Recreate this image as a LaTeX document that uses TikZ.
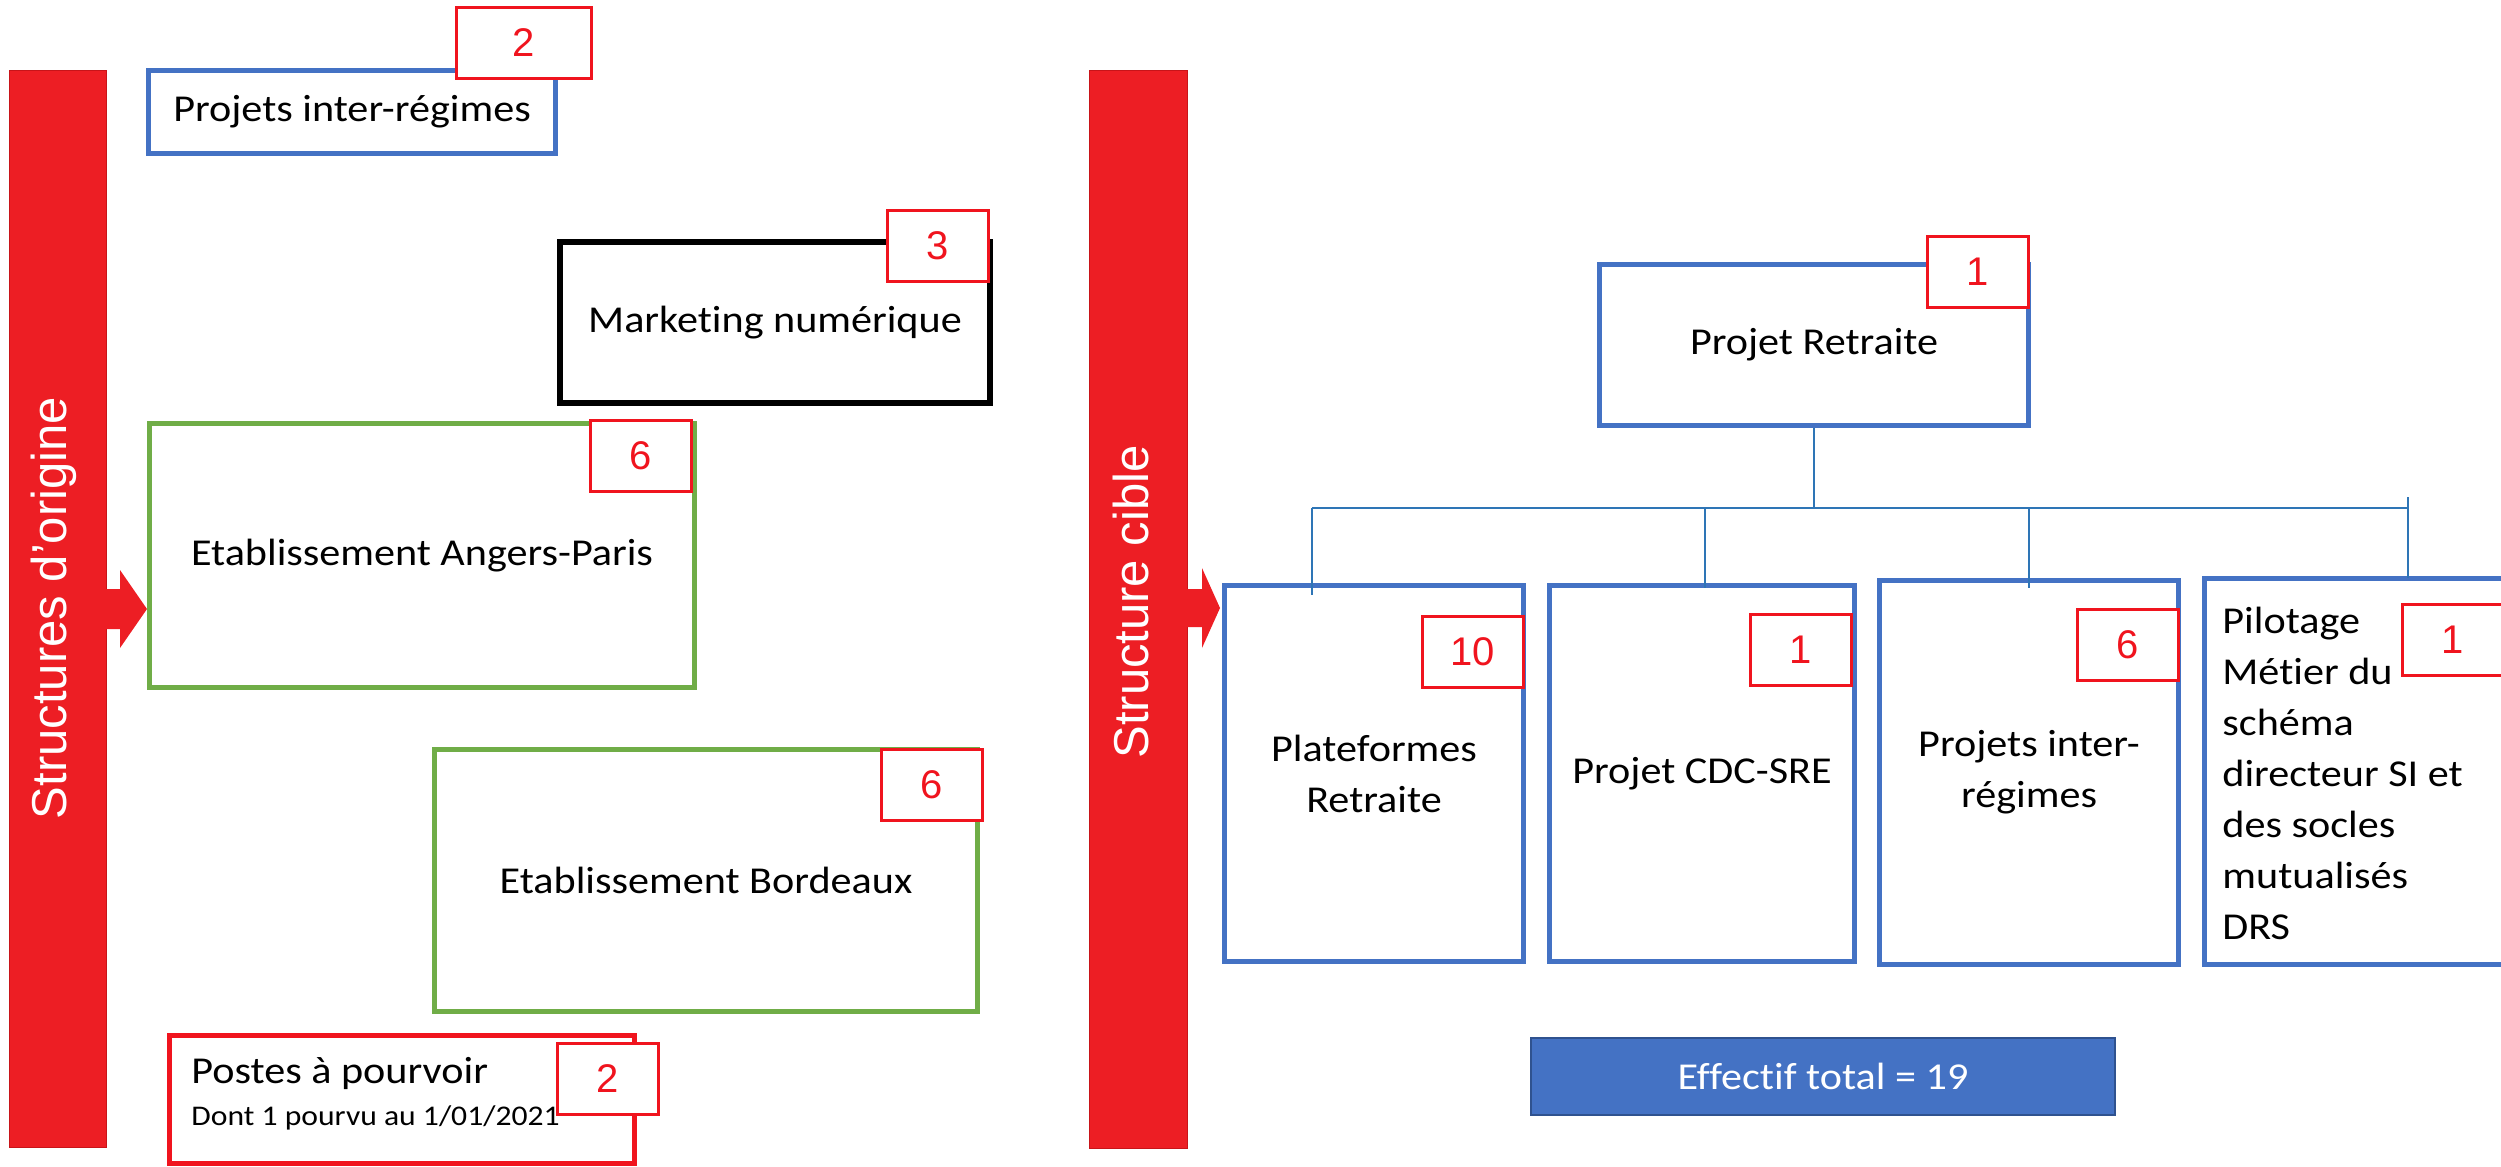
\documentclass[tikz,border=0pt]{standalone}
\usepackage{fontspec}
\setmainfont{Carlito}[FakeStretch=1.11,Ligatures=NoCommon]
\newfontfamily\arialf{Liberation Sans}
\definecolor{blueB}{RGB}{68,114,196}
\definecolor{blueD}{RGB}{47,82,143}
\definecolor{greenB}{RGB}{112,173,71}
\definecolor{barred}{RGB}{237,30,36}
\definecolor{bardark}{RGB}{200,20,25}
\definecolor{badgered}{RGB}{240,20,30}
\definecolor{conn}{RGB}{46,117,182}
\tikzset{
  txt/.style={font=\fontsize{19pt}{25.5pt}\selectfont},
  frame/.style={txt, fill=white, line width=2.5pt, inner sep=0pt, align=center},
  bluebox/.style={frame, draw=blueB},
  greenbox/.style={frame, draw=greenB},
  blackbox/.style={frame, draw=black, line width=3pt},
  redbox/.style={frame, draw=badgered},
  badge/.style={draw=badgered, fill=white, line width=1.5pt, inner sep=0pt,
    minimum width=50.5pt, minimum height=35.5pt, text=badgered,
    font=\arialf\fontsize{20pt}{24pt}\selectfont},
  bar/.style={fill=barred, draw=bardark, line width=0.5pt, inner sep=0pt},
  bartext/.style={rotate=90, text=white, inner sep=0pt,
    font=\arialf\fontsize{24.5pt}{29pt}\selectfont},
  hline/.style={draw=conn, line width=1.25pt},
  vline/.style={draw=conn, line width=0.75pt},
}
\begin{document}
\begin{tikzpicture}[x=0.5pt,y=-0.5pt]
\useasboundingbox (0,0) rectangle (2501,1167);

% ---- left bar
\node[bar, minimum width=48.5pt, minimum height=538.5pt] (barL) at (57.5,608.5) {};
\fill[barred] (106,589) -- (120,589) -- (120,570) -- (147,609) -- (120,648) -- (120,629) -- (106,629) -- cycle;
\node[bartext] (tL) at (54,608) {Structures d’origine};

% ---- right bar
\node[bar, minimum width=49pt, minimum height=539pt] (barR) at (1138,609) {};
\fill[barred] (1187,589) -- (1202,589) -- (1202,568) -- (1220,608) -- (1202,648) -- (1202,627) -- (1187,627) -- cycle;
\node[bartext] (tR) at (1131,602) {Structure cible};

% ---- left boxes
\node[bluebox, minimum width=203.5pt, minimum height=41.5pt] (pir) at (352,112) {Projets inter-régimes};
\node[blackbox, minimum width=215pt, minimum height=80.5pt] (mkt) at (775,322.5) {Marketing numérique};
\node[greenbox, minimum width=272.5pt, minimum height=132pt] (ang) at (422,555.5) {Etablissement Angers-Paris};
\node[greenbox, minimum width=271.5pt, minimum height=131pt] (bdx) at (706,880.5) {Etablissement Bordeaux};
\node[redbox, minimum width=232.5pt, minimum height=64pt] (pst) at (402,1099.5) {};
\node[txt, anchor=base west, inner sep=0pt] (pst1) at (191,1083) {Postes à pourvoir};
\node[anchor=base west, inner sep=0pt, font=\fontsize{14.25pt}{17pt}\selectfont] (pst2) at (191,1125) {Dont 1 pourvu au 1/01/2021};

% ---- right boxes
\node[bluebox, minimum width=214.5pt, minimum height=80.5pt] (pr) at (1814,345) {Projet Retraite};
\node[bluebox, minimum width=149.5pt, minimum height=188pt] (pf) at (1374,773.5) {Plateformes\\Retraite};
\node[bluebox, minimum width=152.5pt, minimum height=188pt] (cdc) at (1702,773.5) {Projet CDC-SRE};
\node[bluebox, minimum width=149.5pt, minimum height=192pt] (pir2) at (2029,772.5) {Projets inter-\\régimes};
\node[bluebox, minimum width=156.5pt, minimum height=193pt] (pil) at (2361,771.5) {};
\node[txt, anchor=west, align=left, inner sep=0pt] (pilt) at (2222,773)
  {Pilotage\\Métier du\\schéma\\directeur SI et\\des socles\\mutualisés\\DRS};
\node[txt, fill=blueB, draw=blueD, line width=1pt, text=white, inner sep=0pt,
  minimum width=292pt, minimum height=38.5pt] (eff) at (1823,1076.5) {Effectif total = 19};

% ---- connectors
\coordinate (hm) at (1814,508);
\coordinate (hl) at (1312,508);
\coordinate (hr) at (2408,508);
\coordinate (hrt) at (2408,497);
\coordinate (h2) at (1705,508);
\coordinate (h3) at (2029,508);
\coordinate (e1) at (1312,595);
\coordinate (e2) at (1705,588);
\coordinate (e3) at (2029,588);
\coordinate (e4) at (2408,578);
\draw[vline] (pr.south) -- (hm);
\draw[hline] (hl) -- (hr);
\draw[vline] (hl) -- (e1);
\draw[vline] (h2) -- (e2);
\draw[vline] (h3) -- (e3);
\draw[vline] (hrt) -- (e4);

% ---- badges
\node[badge, minimum width=67.5pt] (b1) at (524,43) {2};
\node[badge] (b2) at (938,246) {3};
\node[badge] (b3) at (640.5,455.5) {6};
\node[badge] (b4) at (931.5,785) {6};
\node[badge] (b5) at (608,1079) {2};
\node[badge] (b6) at (1977.5,271.5) {1};
\node[badge] (b7) at (1472.5,652) {10};
\node[badge] (b8) at (1800.5,650) {1};
\node[badge] (b9) at (2127.5,644.5) {6};
\node[badge] (b10) at (2453,640) {1};
\end{tikzpicture}
\end{document}
